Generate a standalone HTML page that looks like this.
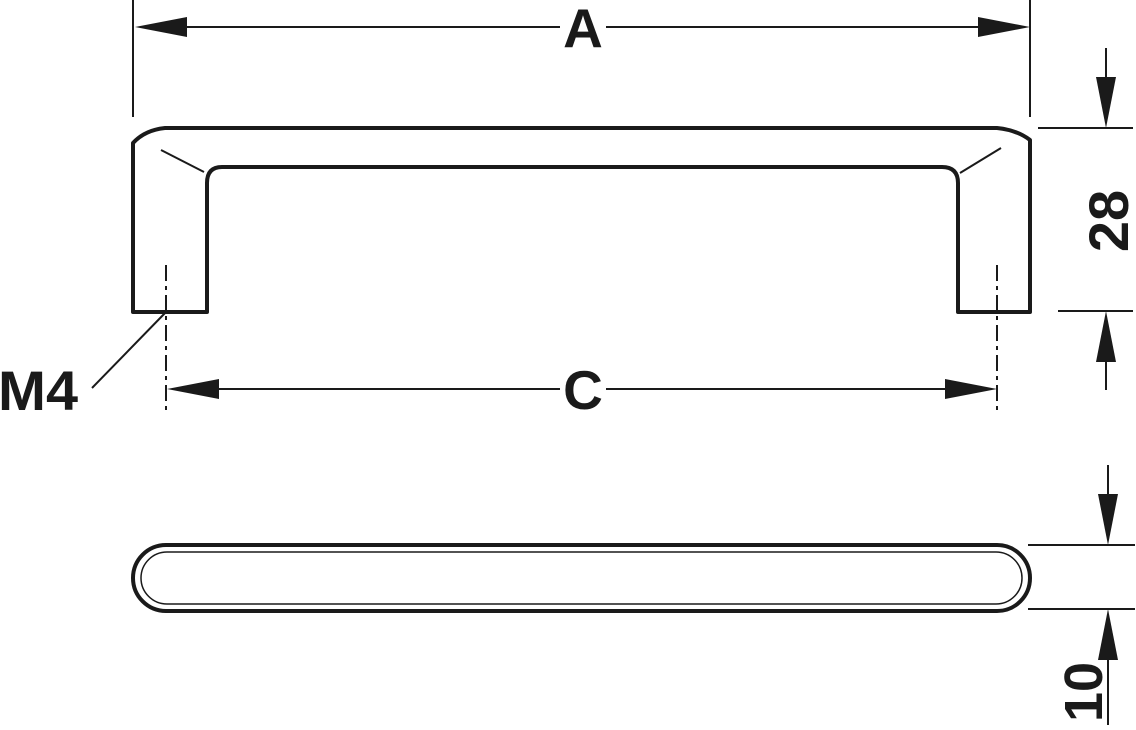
<!DOCTYPE html>
<html><head><style>
html,body{margin:0;padding:0;background:#fff;}
svg{display:block}
text{font-family:"Liberation Sans",Arial,sans-serif;font-weight:bold;fill:#1a1a1a}
</style></head><body>
<svg width="1136" height="730" viewBox="0 0 1136 730" xmlns="http://www.w3.org/2000/svg">
<g stroke="#1a1a1a" fill="none" stroke-linecap="butt">
<path d="M133,312 L133,143 Q145,130 165,128 L997,128 Q1017,130 1030,140 L1030,312 L958,312 L958,183 Q958,167 942,167 L222,167 Q207,167 207,183 L207,312 Z" stroke-width="4" stroke-linejoin="round"/>
<line x1="161" y1="150" x2="204" y2="172" stroke-width="2"/>
<line x1="1001" y1="148" x2="960" y2="173" stroke-width="2"/>
<path d="M166,265 V415 M997,265 V415" stroke-width="2" stroke-dasharray="16,5,4,5"/>
<path d="M133,0 V117 M1030,0 V117" stroke-width="2"/>
<line x1="150" y1="27" x2="560" y2="27" stroke-width="2"/>
<line x1="606" y1="27" x2="1010" y2="27" stroke-width="2"/>
<line x1="180" y1="389" x2="560" y2="389" stroke-width="2"/>
<line x1="606" y1="389" x2="985" y2="389" stroke-width="2"/>
<line x1="166" y1="312" x2="92" y2="388" stroke-width="2"/>
<path d="M1038,128 H1133 M1058,311 H1133 M1106,48 V110 M1106,330 V390" stroke-width="2"/>
<rect x="133" y="545" width="897" height="66" rx="33" stroke-width="4"/>
<rect x="141" y="552" width="881" height="52" rx="26" stroke-width="1.5"/>
<path d="M1028,545 H1135 M1028,609 H1135 M1108,465 V525 M1108,630 V725" stroke-width="2"/>
</g>
<g fill="#1a1a1a">
<polygon points="135,27 187,17 187,37"/>
<polygon points="1030,27 978,17 978,37"/>
<polygon points="167,389 219,379 219,399"/>
<polygon points="997,389 945,379 945,399"/>
<polygon points="1106,128 1096,77 1116,77"/>
<polygon points="1106,311 1096,362 1116,362"/>
<polygon points="1108,545 1098,494 1118,494"/>
<polygon points="1108,609 1098,660 1118,660"/>
</g>
<text x="583" y="47" font-size="55" text-anchor="middle">A</text>
<text x="583" y="409" font-size="55" text-anchor="middle">C</text>
<text x="-2" y="410" font-size="56" textLength="80" lengthAdjust="spacingAndGlyphs">M4</text>
<text transform="translate(1128,221) rotate(-90)" font-size="56" text-anchor="middle">28</text>
<text transform="translate(1102,692) rotate(-90)" font-size="54" text-anchor="middle">10</text>
</svg>
</body></html>
